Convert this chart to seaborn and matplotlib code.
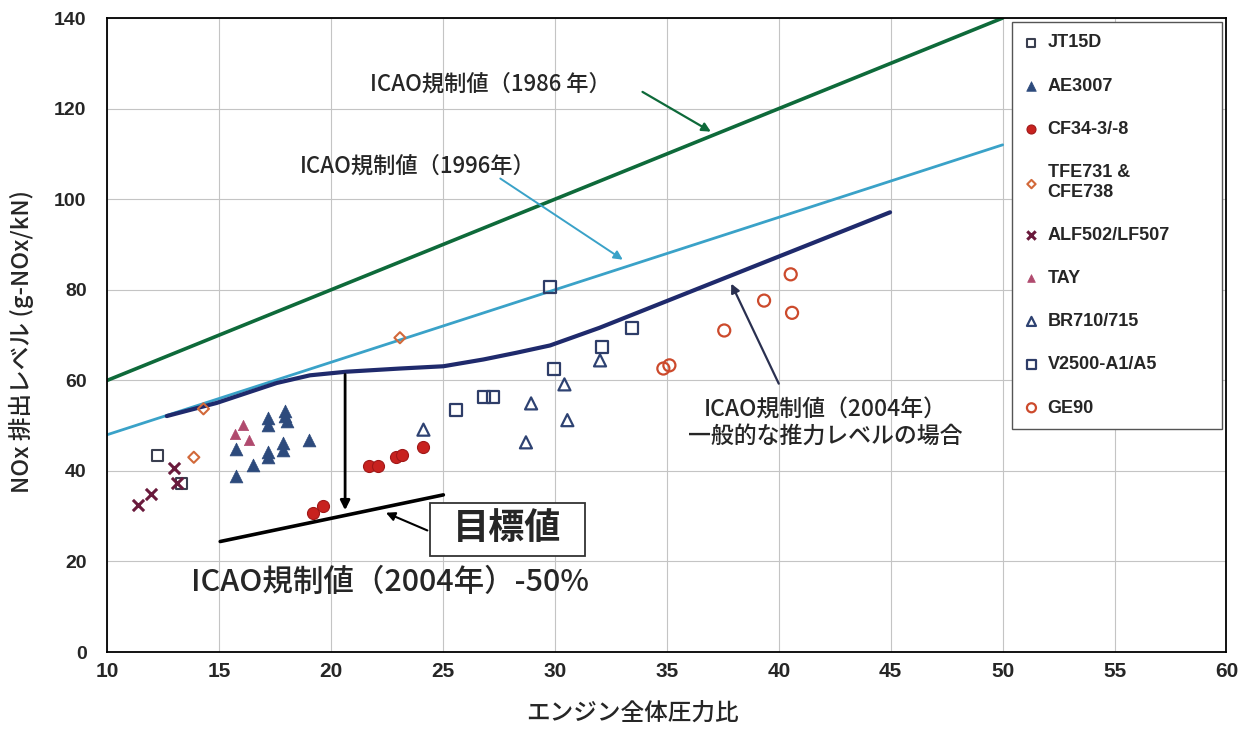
import numpy as np
import pandas as pd
import matplotlib
matplotlib.use("Agg")
import matplotlib.pyplot as plt
import seaborn as sns
from matplotlib.patches import Rectangle

# ---------------- data ----------------
jt15d_x = [12.23, 13.32]
jt15d_y = [43.4, 37.2]
ae3007_x = [15.73, 15.75, 16.52, 17.16, 17.16, 17.16, 17.16, 17.94, 17.94, 18.01, 17.86, 17.86, 19.02]
ae3007_y = [44.8, 38.9, 41.2, 51.7, 50.2, 44.1, 43.1, 53.2, 52.1, 51.0, 46.2, 44.7, 46.9]
cf34_x = [19.20, 19.65, 21.70, 22.10, 22.90, 23.16, 24.12]
cf34_y = [30.7, 32.3, 41.0, 41.0, 43.1, 43.6, 45.2]
tfe_x = [13.86, 14.29, 23.07]
tfe_y = [43.0, 53.7, 69.4]
alf_x = [11.35, 11.93, 12.98, 13.10]
alf_y = [32.5, 34.9, 40.6, 37.3]
tay_x = [15.70, 16.07, 16.33]
tay_y = [48.2, 50.2, 46.9]
br_x = [24.12, 28.70, 28.93, 30.42, 30.55, 32.01]
br_y = [49.1, 46.3, 54.9, 59.1, 51.2, 64.4]
v2500_x = [25.56, 26.83, 27.22, 29.78, 29.97, 32.09, 33.45]
v2500_y = [53.4, 56.3, 56.3, 80.5, 62.4, 67.3, 71.5]
ge90_x = [34.84, 35.11, 37.56, 39.34, 40.53, 40.59]
ge90_y = [62.6, 63.3, 71.0, 77.6, 83.4, 74.9]

icao1986_x = [10, 50]
icao1986_y = [60, 140]
icao1996_x = [10, 50]
icao1996_y = [48, 112]
icao2004_x = [12.65, 14.88, 17.56, 19.05, 20.69, 23.07, 25.01, 26.80, 28.29, 29.78, 31.99, 44.97]
icao2004_y = [52.1, 55.0, 59.4, 61.1, 61.9, 62.6, 63.1, 64.6, 66.1, 67.7, 71.6, 97.1]
goal_x = [15.04, 25.01]
goal_y = [24.4, 34.7]

x_ticks = [10, 15, 20, 25, 30, 35, 40, 45, 50, 55, 60]
y_ticks = [0, 20, 40, 60, 80, 100, 120, 140]

legend_labels = ["JT15D", "AE3007", "CF34-3/-8", "TFE731 &\nCFE738", "ALF502/LF507",
                 "TAY", "BR710/715", "V2500-A1/A5", "GE90"]

# ---------------- style ----------------
sns.set_theme(style="white")
plt.rcParams["font.family"] = ["Liberation Sans", "Noto Sans CJK JP", "DejaVu Sans"]
CJK = ["Noto Sans CJK JP", "DejaVu Sans"]

fig = plt.figure(figsize=(12.52, 7.33), dpi=100)
ax = fig.add_axes([0.0858, 0.1105, 0.8938, 0.8649])

c_green = "#0e6a3a"
c_light = "#3aa2c8"
c_navy = "#1f2a6c"

# lines
sns.lineplot(x=icao1986_x, y=icao1986_y, color=c_green, lw=2.6, ax=ax, zorder=2)
sns.lineplot(x=icao1996_x, y=icao1996_y, color=c_light, lw=2.0, ax=ax, zorder=2)
sns.lineplot(x=icao2004_x, y=icao2004_y, color=c_navy, lw=3.0, ax=ax, zorder=2)
sns.lineplot(x=goal_x, y=goal_y, color="black", lw=2.6, ax=ax, zorder=2)

# scatter series
sns.scatterplot(x=jt15d_x, y=jt15d_y, marker="s", s=60, facecolor="none",
                edgecolor="#3a3f50", linewidth=1.5, label=legend_labels[0], ax=ax, zorder=3)
sns.scatterplot(x=ae3007_x, y=ae3007_y, marker="^", s=85, color="#2d4a7c",
                edgecolor="#2d4a7c", linewidth=0.5, label=legend_labels[1], ax=ax, zorder=3)
sns.scatterplot(x=cf34_x, y=cf34_y, marker="o", s=75, color="#c8221f",
                edgecolor="#a01818", linewidth=0.8, label=legend_labels[2], ax=ax, zorder=3)
sns.scatterplot(x=tfe_x, y=tfe_y, marker="D", s=32, facecolor="none",
                edgecolor="#d2693a", linewidth=1.5, label=legend_labels[3], ax=ax, zorder=3)
sns.scatterplot(x=alf_x, y=alf_y, marker="x", s=65, color="#6a1a3c",
                linewidth=2.2, label=legend_labels[4], ax=ax, zorder=3)
sns.scatterplot(x=tay_x, y=tay_y, marker="^", s=55, color="#b04a6e",
                edgecolor="#b04a6e", linewidth=0.5, label=legend_labels[5], ax=ax, zorder=3)
sns.scatterplot(x=br_x, y=br_y, marker="^", s=75, facecolor="none",
                edgecolor="#2e4272", linewidth=1.6, label=legend_labels[6], ax=ax, zorder=3)
sns.scatterplot(x=v2500_x, y=v2500_y, marker="s", s=75, facecolor="none",
                edgecolor="#2e3d68", linewidth=1.6, label=legend_labels[7], ax=ax, zorder=3)
sns.scatterplot(x=ge90_x, y=ge90_y, marker="o", s=75, facecolor="none",
                edgecolor="#cc4a2c", linewidth=1.6, label=legend_labels[8], ax=ax, zorder=3)

# axes
ax.set_xlim(10, 60)
ax.set_ylim(0, 140)
ax.set_xticks(x_ticks)
ax.set_yticks(y_ticks)
ax.set_xticklabels([str(v) for v in x_ticks], fontsize=15, fontweight="bold")
ax.set_yticklabels([str(v) for v in y_ticks], fontsize=14, fontweight="bold")
ax.tick_params(axis="y", length=0, pad=15)
ax.tick_params(axis="x", length=0, pad=7)
ax.grid(True, color="#c4c4c4", lw=0.8)
ax.set_axisbelow(True)
for sp in ax.spines.values():
    sp.set_color("black")
    sp.set_linewidth(1.3)

ax.set_xlabel("エンジン全体圧力比", fontsize=17, family=CJK, fontweight="medium")
ax.xaxis.set_label_coords(0.469, -0.078)
ax.set_ylabel("NOx 排出レベル (g-NOx/kN)", fontsize=17, family=CJK, fontweight="medium")
ax.yaxis.set_label_coords(-0.066, 0.49)

# annotations
TW = "medium"
ax.text(27.09, 125.4, "ICAO規制値（1986 年）", ha="center", va="center", fontsize=16,
        family=CJK, fontweight=TW)
ax.annotate("", xy=(37.07, 114.6), xytext=(33.80, 124.0),
            arrowprops=dict(arrowstyle="-|>", color=c_green, lw=1.6, mutation_scale=13))
ax.text(23.88, 107.3, "ICAO規制値（1996年）", ha="center", va="center", fontsize=16,
        family=CJK, fontweight=TW)
ax.annotate("", xy=(33.13, 86.3), xytext=(27.45, 104.9),
            arrowprops=dict(arrowstyle="-|>", color=c_light, lw=1.4, mutation_scale=13))
ax.text(42.07, 50.6, "ICAO規制値（2004年）\n一般的な推力レベルの場合", ha="center", va="center",
        fontsize=16.5, family=CJK, linespacing=1.15, fontweight=TW)
ax.annotate("", xy=(37.82, 81.9), xytext=(40.05, 58.7),
            arrowprops=dict(arrowstyle="-|>", color="#2a3050", lw=1.6, mutation_scale=13))
# vertical reduction arrow
ax.annotate("", xy=(20.62, 30.7), xytext=(20.62, 61.9),
            arrowprops=dict(arrowstyle="-|>", color="black", lw=2.0, mutation_scale=14))
# goal label
ax.add_patch(Rectangle((24.41, 21.2), 6.93, 11.76, fc="white", ec="#333333", lw=1.3, zorder=4))
ax.text(27.86, 27.2, "目標値", ha="center", va="center", fontsize=26, fontweight="bold",
        family=CJK, zorder=5)
ax.annotate("", xy=(22.33, 31.0), xytext=(24.41, 26.6),
            arrowprops=dict(arrowstyle="-|>", color="black", lw=1.5, mutation_scale=13), zorder=5)
ax.text(22.63, 15.3, "ICAO規制値（2004年）-50%", ha="center", va="center", fontsize=22,
        family=CJK, fontweight=TW)

# legend
handles, labels = ax.get_legend_handles_labels()
leg = ax.legend(handles, labels, loc="upper left", bbox_to_anchor=(0.808, 0.30, 0.188, 0.694),
                mode="expand", borderaxespad=0, labelspacing=1.45,
                prop={"size": 13, "weight": "bold", "family": ["Liberation Sans", "DejaVu Sans"]},
                handlelength=0.8, handletextpad=0.5, borderpad=0.7, markerscale=0.75,
                frameon=True, fancybox=False, framealpha=1, edgecolor="#555555")
leg.get_frame().set_linewidth(1.0)

fig.savefig("out.png", dpi=100, facecolor="white")
